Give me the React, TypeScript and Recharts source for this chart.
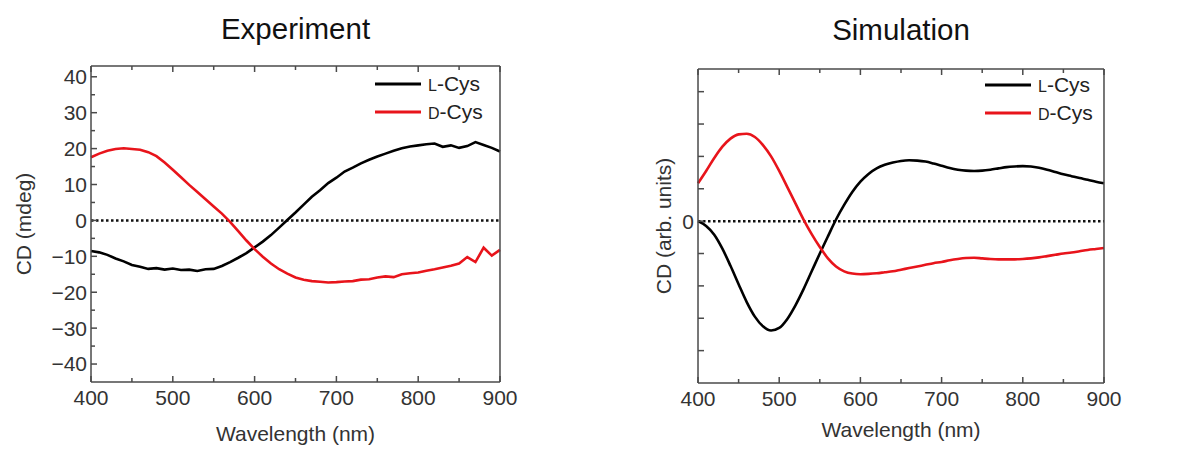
import { LineChart, Line, XAxis, YAxis, ReferenceLine, Legend } from 'recharts'

// wavelength grid (nm), shared by both panels
const wavelength = [
  400, 410, 420, 430, 440, 450, 460, 470, 480, 490,
  500, 510, 520, 530, 540, 550, 560, 570, 580, 590,
  600, 610, 620, 630, 640, 650, 660, 670, 680, 690,
  700, 710, 720, 730, 740, 750, 760, 770, 780, 790,
  800, 810, 820, 830, 840, 850, 860, 870, 880, 890,
  900,
]

// measured CD (mdeg)
const expL = [
  -8.5, -8.9, -9.6, -10.6, -11.4, -12.4, -12.9, -13.5, -13.3, -13.7,
  -13.4, -13.8, -13.7, -14.1, -13.6, -13.5, -12.7, -11.6, -10.4, -9.1,
  -7.5, -5.9, -4.1, -2.0, 0.1, 2.2, 4.4, 6.6, 8.4, 10.4,
  11.9, 13.6, 14.7, 15.9, 16.9, 17.8, 18.6, 19.4, 20.1, 20.6,
  20.9, 21.2, 21.4, 20.5, 20.9, 20.2, 20.7, 21.8, 21.0, 20.2,
  19.2,
]
const expD = [
  17.6, 18.6, 19.4, 19.9, 20.1, 19.9, 19.7, 19.0, 17.9, 16.1,
  14.1, 12.0, 9.9, 7.9, 5.9, 3.9, 1.9, -0.4, -3.0, -5.6,
  -8.0, -10.1, -12.0, -13.6, -14.8, -15.9, -16.5, -16.9, -17.1, -17.3,
  -17.2, -17.0, -16.9, -16.5, -16.4, -15.9, -15.6, -15.8, -15.0, -14.7,
  -14.5, -14.0, -13.6, -13.1, -12.6, -12.0, -10.2, -11.6, -7.6, -9.8,
  -8.2,
]

// simulated CD (arb. units)
const simL = [
  0, -0.15, -0.42, -0.85, -1.38, -1.95, -2.5, -2.95, -3.25, -3.38,
  -3.3, -3.02, -2.6, -2.1, -1.55, -1.0, -0.47, 0.05, 0.5, 0.9,
  1.22, 1.46, 1.63, 1.74, 1.81, 1.86, 1.88, 1.87, 1.84, 1.78,
  1.71, 1.64, 1.59, 1.56, 1.55, 1.56, 1.59, 1.63, 1.67, 1.69,
  1.7, 1.69, 1.65, 1.59, 1.52, 1.45, 1.39, 1.33, 1.28, 1.22,
  1.17,
]
const simD = [
  1.17, 1.55, 1.95, 2.3, 2.55, 2.68, 2.7, 2.6, 2.35, 2.0,
  1.55, 1.05, 0.55, 0.05, -0.4, -0.8, -1.15, -1.4, -1.55, -1.62,
  -1.64, -1.63, -1.61, -1.58, -1.55, -1.5, -1.45, -1.4, -1.35, -1.3,
  -1.26, -1.21, -1.17, -1.14, -1.13, -1.15, -1.17, -1.18, -1.18, -1.18,
  -1.17, -1.15, -1.12, -1.08, -1.04, -1.0, -0.97, -0.93, -0.89, -0.86,
  -0.83,
]

const xMajor = [400, 500, 600, 700, 800, 900]
const xMinor = [450, 550, 650, 750, 850]
const expYMajor = [-40, -30, -20, -10, 0, 10, 20, 30, 40]
const expYMinor = [-35, -25, -15, -5, 5, 15, 25, 35]
const simYTicks = [-4, -3, -2, -1, 0, 1, 2, 3, 4]
const seriesNames = ['L-Cys', 'D-Cys']

const FONT = "'Liberation Sans', Arial, Helvetica, sans-serif"
const INK = '#333'
const FRAME = '#4a4a4a'
const BLACK = '#000'
const RED = '#e8141b'
const H = 449

const fmt = (v: number) => (v < 0 ? `\u2212${Math.abs(v)}` : `${v}`)
const merge = (a: number[], b: number[]) => [...a, ...b].sort((m, n) => m - n)

type Side = 'bottom' | 'top' | 'left' | 'right'

// tick mark drawn inward from the frame edge, label only for major ticks
const makeTick = (side: Side, edge: number, major: number[], label?: (v: number) => string) =>
  // eslint-disable-next-line @typescript-eslint/no-explicit-any
  function Tick(props: any) {
    const v = props.payload.value
    const isMajor = major.includes(v)
    const len = isMajor ? 6 : 4
    const lineStyle = { stroke: FRAME, strokeWidth: 1.5 }
    const text = isMajor && label ? label(v) : ''
    if (side === 'bottom' || side === 'top') {
      const x = props.x
      const y2 = side === 'bottom' ? edge - len : edge + len
      return (
        <g>
          <line x1={x} x2={x} y1={edge} y2={y2} {...lineStyle} />
          {text && (
            <text x={x} y={edge + 8} dy="0.71em" textAnchor="middle" fontFamily={FONT} fontSize={21} fill={INK}>
              {text}
            </text>
          )}
        </g>
      )
    }
    const y = props.y
    const x2 = side === 'left' ? edge + len : edge - len
    return (
      <g>
        <line x1={edge} x2={x2} y1={y} y2={y} {...lineStyle} />
        {text && (
          <text x={edge - 4} y={y} dy="0.355em" textAnchor="end" fontFamily={FONT} fontSize={21} fill={INK}>
            {text}
          </text>
        )}
      </g>
    )
  }

// eslint-disable-next-line @typescript-eslint/no-explicit-any
function LegendBox({ payload }: any) {
  const items = [...(payload ?? [])].sort(
    (a, b) => seriesNames.indexOf(a.value) - seriesNames.indexOf(b.value)
  )
  return (
    <div style={{ fontFamily: FONT, fontSize: 21, color: '#222' }}>
      {items.map((p) => (
        <div key={p.value} style={{ display: 'flex', alignItems: 'center', height: 28 }}>
          <svg width={46} height={6}>
            <line x1={0} y1={3} x2={46} y2={3} stroke={p.color} strokeWidth={3} />
          </svg>
          <span style={{ marginLeft: 7 }}>
            <span style={{ fontSize: 16 }}>{p.value[0]}</span>
            {p.value.slice(1)}
          </span>
        </div>
      ))}
    </div>
  )
}

const yTitle = (text: string, dist: number) =>
  // eslint-disable-next-line @typescript-eslint/no-explicit-any
  function YTitle(props: any) {
    const { x, width, y, height } = props.viewBox
    const cx = x + width - dist
    const cy = y + height / 2
    return (
      <text
        x={cx}
        y={cy}
        transform={`rotate(-90, ${cx}, ${cy})`}
        textAnchor="middle"
        dominantBaseline="central"
        fontFamily={FONT}
        fontSize={21}
        fill={INK}
      >
        {text}
      </text>
    )
  }

interface PanelProps {
  title: string
  yLabel: string
  yLabelDist: number
  lData: number[]
  dData: number[]
  yDomain: [number, number]
  yMajor: number[]
  yMinor: number[]
  yFormat: (v: number) => string
  smooth: boolean
  width: number
  plot: { top: number; right: number; bottom: number; left: number }
  xLabelOffset: number
  titleY: number
  legendPos: { left: number; top: number }
}

// axes need a non-zero box to be drawn; keep it tiny so the plot box is set by the margin
const AX = 0.01

function Panel(p: PanelProps) {
  const data = wavelength.map((wl, i) => ({ wl, l: p.lData[i], d: p.dData[i] }))
  const plotW = p.width - p.plot.left - p.plot.right
  const bottomEdge = H - p.plot.bottom
  const rightEdge = p.width - p.plot.right
  const xAll = merge(xMajor, xMinor)
  const yAll = merge(p.yMajor, p.yMinor)
  const xc = {
    type: 'number' as const,
    dataKey: 'wl',
    domain: [400, 900],
    stroke: FRAME,
    strokeWidth: 1.5,
    height: AX,
    interval: 0 as const,
    tickLine: false,
    ticks: xAll,
  }
  const yc = {
    type: 'number' as const,
    domain: p.yDomain,
    stroke: FRAME,
    strokeWidth: 1.5,
    width: AX,
    interval: 0 as const,
    tickLine: false,
    ticks: yAll,
  }
  return (
    <LineChart width={p.width} height={H} data={data} margin={p.plot}>
      <text
        x={p.plot.left + plotW / 2}
        y={p.titleY}
        textAnchor="middle"
        fontFamily={FONT}
        fontSize={29.5}
        fill="#111"
      >
        {p.title}
      </text>

      <XAxis
        {...xc}
        xAxisId="b"
        orientation="bottom"
        tick={makeTick('bottom', bottomEdge, xMajor, fmt)}
        label={{
          value: 'Wavelength (nm)',
          position: 'bottom',
          offset: p.xLabelOffset,
          style: { fontFamily: FONT, fontSize: 21, fill: INK },
        }}
      />
      <XAxis {...xc} xAxisId="t" orientation="top" tick={makeTick('top', p.plot.top, xMajor)} />
      <YAxis
        {...yc}
        yAxisId="l"
        orientation="left"
        tick={makeTick('left', p.plot.left, p.yMajor, p.yFormat)}
        label={{ content: yTitle(p.yLabel, p.yLabelDist) }}
      />
      <YAxis {...yc} yAxisId="r" orientation="right" tick={makeTick('right', rightEdge, p.yMajor)} />

      <ReferenceLine xAxisId="b" yAxisId="l" y={0} stroke="#111" strokeWidth={2.5} strokeDasharray="2.5 2.5" />

      <Legend
        verticalAlign="middle"
        layout="horizontal"
        content={<LegendBox />}
        wrapperStyle={{ left: p.legendPos.left, top: p.legendPos.top, width: 'auto', height: 'auto' }}
      />

      <Line
        xAxisId="b"
        yAxisId="l"
        name="L-Cys"
        dataKey="l"
        type={p.smooth ? 'monotone' : 'linear'}
        stroke={BLACK}
        strokeWidth={2.6}
        dot={false}
        isAnimationActive={false}
      />
      <Line
        xAxisId="b"
        yAxisId="l"
        name="D-Cys"
        dataKey="d"
        type={p.smooth ? 'monotone' : 'linear'}
        stroke={RED}
        strokeWidth={2.6}
        dot={false}
        isAnimationActive={false}
      />
    </LineChart>
  )
}

export default function App() {
  return (
    <div
      style={{
        position: 'absolute',
        left: 0,
        top: 0,
        width: 1204,
        height: H,
        background: '#fff',
        display: 'flex',
      }}
    >
      <Panel
        title="Experiment"
        yLabel="CD (mdeg)"
        yLabelDist={68}
        lData={expL}
        dData={expD}
        yDomain={[-45, 43]}
        yMajor={expYMajor}
        yMinor={expYMinor}
        yFormat={fmt}
        smooth={false}
        width={600}
        plot={{ top: 66, right: 100, bottom: 67, left: 91 }}
        xLabelOffset={44}
        titleY={39}
        legendPos={{ left: 375, top: 70 }}
      />
      <Panel
        title="Simulation"
        yLabel="CD (arb. units)"
        yLabelDist={35}
        lData={simL}
        dData={simD}
        yDomain={[-5, 4.7]}
        yMajor={simYTicks}
        yMinor={[]}
        yFormat={(v) => (v === 0 ? '0' : '')}
        smooth={true}
        width={604}
        plot={{ top: 69, right: 100, bottom: 66, left: 98 }}
        xLabelOffset={39}
        titleY={40}
        legendPos={{ left: 385, top: 71 }}
      />
    </div>
  )
}
